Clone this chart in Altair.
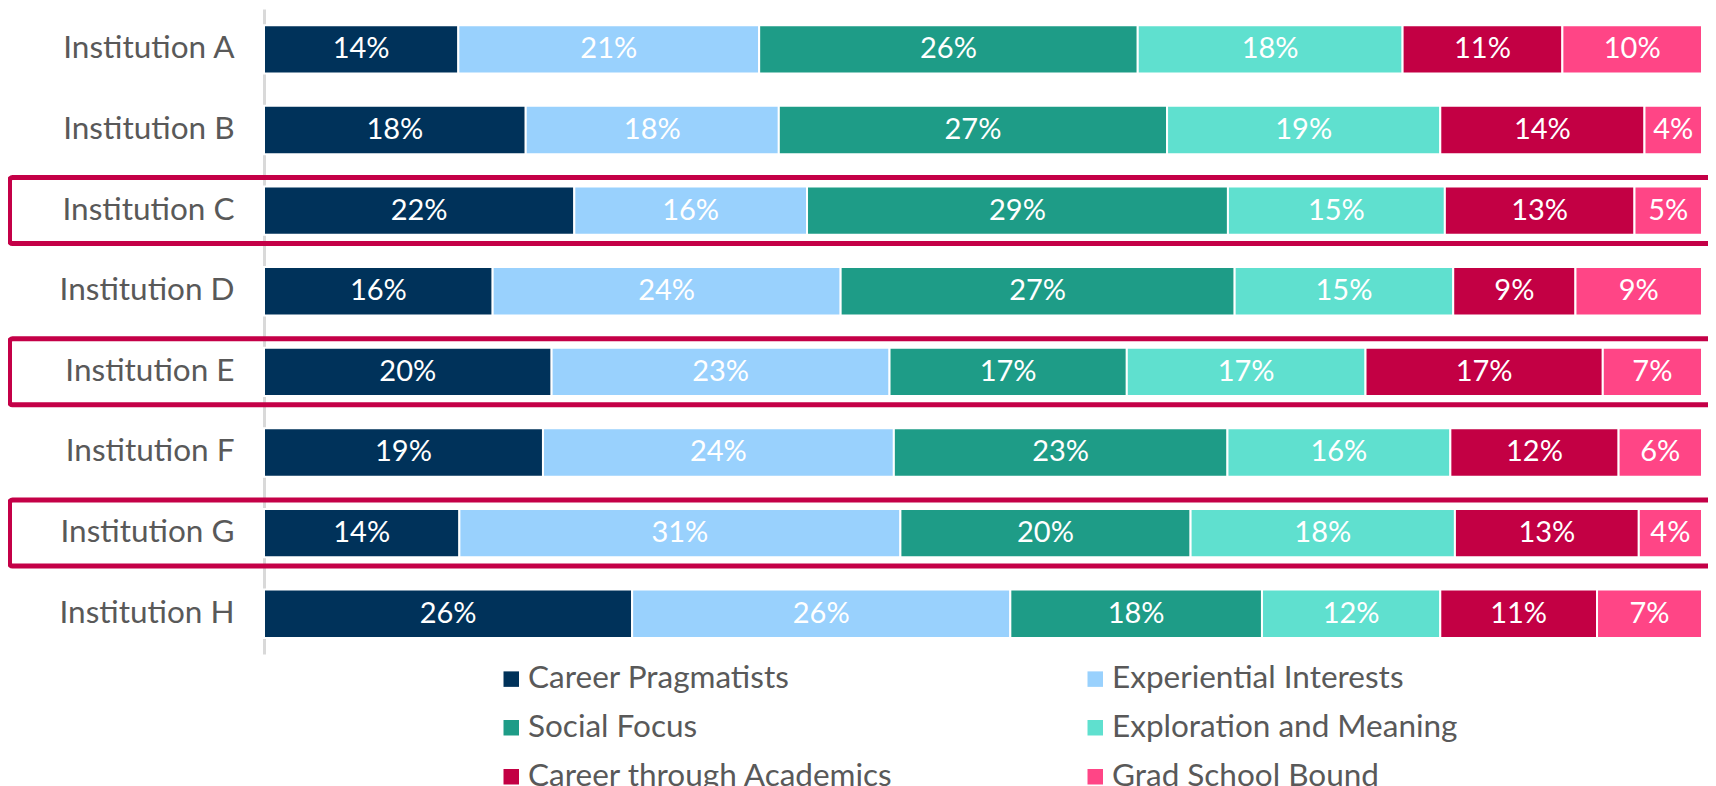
import altair as alt
import pandas as pd

institutions = ["Institution A", "Institution B", "Institution C", "Institution D",
                "Institution E", "Institution F", "Institution G", "Institution H"]
categories = ["Career Pragmatists", "Experiential Interests", "Social Focus",
              "Exploration and Meaning", "Career through Academics", "Grad School Bound"]
colors = ["#00325A", "#99D1FD", "#1E9C87", "#5FE0CF", "#C30044", "#FF4586"]

# segment sizes (percent)
career_pragmatists = [13.5, 18.2, 21.6, 15.9, 20.0, 19.4, 13.6, 25.6]
experiential_interests = [20.9, 17.6, 16.2, 24.2, 23.5, 24.4, 30.7, 26.3]
social_focus = [26.3, 27.0, 29.3, 27.4, 16.5, 23.2, 20.2, 17.5]
exploration_meaning = [18.4, 19.0, 15.1, 15.2, 16.6, 15.5, 18.4, 12.4]
career_academics = [11.1, 14.2, 13.2, 8.5, 16.5, 11.7, 12.8, 10.9]
grad_school = [9.7, 4.0, 4.7, 8.8, 6.9, 5.8, 4.4, 7.3]

# printed labels
career_pragmatists_lbl = [14, 18, 22, 16, 20, 19, 14, 26]
experiential_interests_lbl = [21, 18, 16, 24, 23, 24, 31, 26]
social_focus_lbl = [26, 27, 29, 27, 17, 23, 20, 18]
exploration_meaning_lbl = [18, 19, 15, 15, 17, 16, 18, 12]
career_academics_lbl = [11, 14, 13, 9, 17, 12, 13, 11]
grad_school_lbl = [10, 4, 5, 9, 7, 6, 4, 7]

highlighted = ["Institution C", "Institution E", "Institution G"]

series = [career_pragmatists, experiential_interests, social_focus,
          exploration_meaning, career_academics, grad_school]
labels = [career_pragmatists_lbl, experiential_interests_lbl, social_focus_lbl,
          exploration_meaning_lbl, career_academics_lbl, grad_school_lbl]

rows = []
for ci, (cat, vals, lbls) in enumerate(zip(categories, series, labels)):
    for inst, v, lb in zip(institutions, vals, lbls):
        rows.append({"Institution": inst, "Category": cat, "order": ci,
                     "value": v, "label": f"{lb}%"})
df = pd.DataFrame(rows)
box_df = pd.DataFrame({"Institution": highlighted})

W, H = 1438, 645

yscale = alt.Scale(domain=institutions, paddingInner=0.4, paddingOuter=0.2)
yaxis = alt.Axis(title=None, ticks=False, grid=False, domainColor="#D9D9D9",
                 domainWidth=3, labelFont="Lato", labelFontSize=31.5,
                 labelColor="#595959", labelPadding=30, labelLimit=400)
y = alt.Y("Institution:N", scale=yscale, axis=yaxis)
xs = alt.Scale(domain=[0, 1], nice=False, zero=True)

base = alt.Chart(df).transform_stack(
    stack="value", groupby=["Institution"], as_=["x0", "x1"], offset="normalize",
    sort=[alt.SortField("order", "ascending")]
).transform_calculate(xm="(datum.x0 + datum.x1) / 2")

bars = base.mark_bar(stroke="white", strokeWidth=2).encode(
    x=alt.X("x0:Q", scale=xs, axis=None),
    x2="x1:Q",
    y=y,
    color=alt.Color(
        "Category:N",
        scale=alt.Scale(domain=categories, range=colors),
        legend=alt.Legend(
            title=None, orient="none", legendX=231.5, legendY=654,
            direction="horizontal", columns=2,
            labelFont="Lato", labelFontSize=31.5, labelColor="#595959",
            labelLimit=600, labelOffset=1,
            symbolType="square", symbolSize=240, symbolStrokeWidth=0,
            rowPadding=16, columnPadding=186,
        ),
    ),
)

texts = base.mark_text(font="Lato", fontSize=29, color="white").encode(
    x=alt.X("xm:Q", scale=xs, axis=None),
    y=y,
    text="label:N",
)

boxes = alt.Chart(box_df).mark_bar(
    size=66, fill="transparent", stroke="#C40047", strokeWidth=5, cornerRadius=3
).encode(
    y=y,
    x=alt.value(-254.5),
    x2=alt.value(1500),
)

chart = alt.layer(bars, texts, boxes).properties(
    width=W, height=H,
    padding={"left": 256, "top": 1, "right": 6, "bottom": 132},
    autosize=alt.AutoSizeParams(type="none"),
).configure_view(stroke=None)

chart.save("out.html", embed_options={"renderer": "svg", "actions": False})
